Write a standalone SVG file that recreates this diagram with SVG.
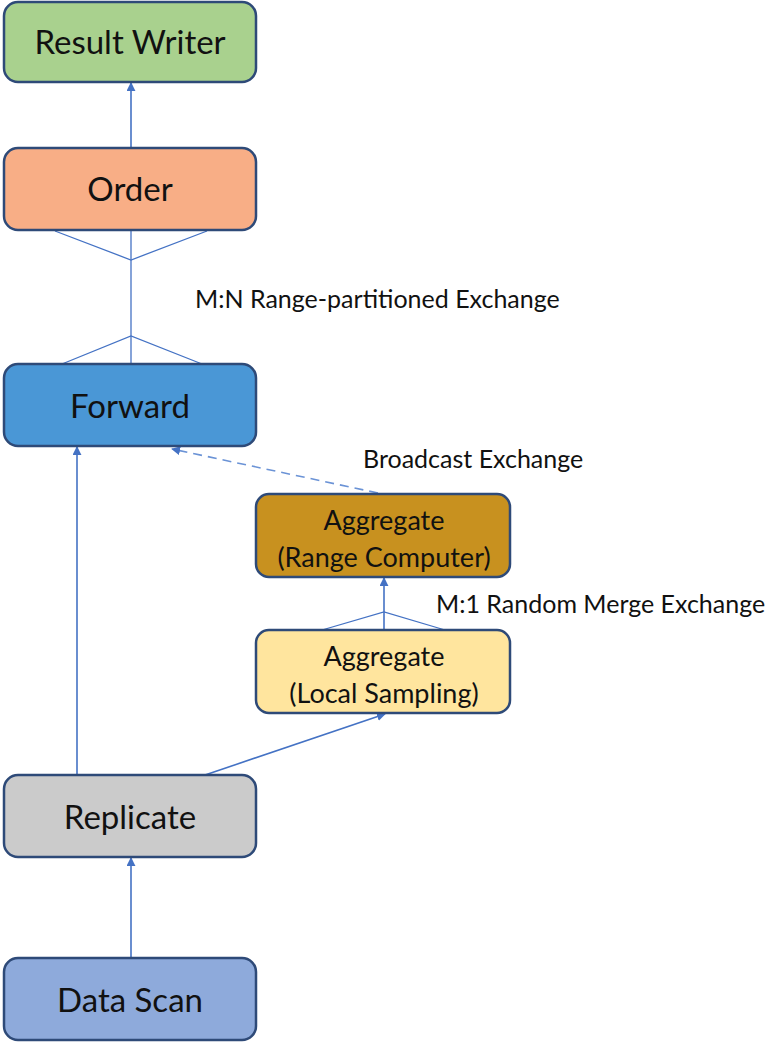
<svg xmlns="http://www.w3.org/2000/svg" width="776" height="1042" viewBox="0 0 776 1042">
  <defs>
    <marker id="arrow" viewBox="0 0 10 10" refX="9" refY="5" markerWidth="9" markerHeight="9" markerUnits="userSpaceOnUse" orient="auto">
      <path d="M0,0 L10,5 L0,10 z" fill="#4472c4"/>
    </marker>
    <style>
      .box { stroke: #2e4a78; stroke-width: 2.5; }
      .lbl { font-family: Lato, "Open Sans", sans-serif; fill: #111; text-anchor: middle; }
      .big { font-size: 33px; }
      .mid { font-size: 27px; }
      .note { font-family: Lato, "Open Sans", sans-serif; font-size: 25px; fill: #111; }
      .edge { stroke: #4472c4; stroke-width: 1.6; fill: none; }
      .fan { stroke: #4472c4; stroke-width: 1.3; fill: none; }
      .dash { stroke: #6b93d6; stroke-width: 1.6; fill: none; stroke-dasharray: 9 6; }
    </style>
  </defs>

  <!-- connectors -->
  <g id="connectors">
    <line class="edge" x1="131" y1="148" x2="131" y2="83" marker-end="url(#arrow)"/>
    <!-- range-partitioned exchange -->
    <polyline class="fan" points="55,231 131,260 207,231"/>
    <line class="fan" x1="131" y1="231" x2="131" y2="364"/>
    <polyline class="fan" points="62,364 131,336 202,364"/>
    <!-- broadcast exchange -->
    <line class="dash" x1="378" y1="493" x2="172" y2="449" marker-end="url(#arrow)"/>
    <!-- random merge exchange -->
    <line class="edge" x1="384" y1="630" x2="384" y2="578" marker-end="url(#arrow)"/>
    <polyline class="fan" points="322,630 384,612 445,630"/>
    <!-- replicate outputs -->
    <line class="edge" x1="77" y1="775" x2="77" y2="447" marker-end="url(#arrow)"/>
    <line class="edge" x1="205" y1="775" x2="385" y2="714" marker-end="url(#arrow)"/>
    <line class="edge" x1="131" y1="958" x2="131" y2="858" marker-end="url(#arrow)"/>
  </g>

  <g id="result-writer">
    <rect class="box" x="4" y="2" width="252" height="80" rx="14" fill="#a9d18e"/>
    <text class="lbl big" x="130" y="54">Result Writer</text>
  </g>

  <g id="order">
    <rect class="box" x="4" y="148" width="252" height="82" rx="14" fill="#f8ae86"/>
    <text class="lbl big" x="130" y="201">Order</text>
  </g>

  <text class="note" x="195" y="308">M:N Range-partitioned Exchange</text>

  <g id="forward">
    <rect class="box" x="4" y="364" width="252" height="82" rx="14" fill="#4a97d6"/>
    <text class="lbl big" x="130" y="418">Forward</text>
  </g>

  <text class="note" x="363" y="468">Broadcast Exchange</text>

  <g id="range-computer">
    <rect class="box" x="256" y="494" width="254" height="83" rx="13" fill="#c8911f"/>
    <text class="lbl mid" x="384" y="530">Aggregate</text>
    <text class="lbl mid" x="384" y="567">(Range Computer)</text>
  </g>

  <text class="note" x="436" y="613">M:1 Random Merge Exchange</text>

  <g id="local-sampling">
    <rect class="box" x="256" y="630" width="254" height="83" rx="13" fill="#ffe59e"/>
    <text class="lbl mid" x="384" y="666">Aggregate</text>
    <text class="lbl mid" x="384" y="703">(Local Sampling)</text>
  </g>

  <g id="replicate">
    <rect class="box" x="4" y="775" width="252" height="82" rx="14" fill="#cbcbcb"/>
    <text class="lbl big" x="130" y="829">Replicate</text>
  </g>

  <g id="data-scan">
    <rect class="box" x="4" y="958" width="252" height="82" rx="14" fill="#8eaadb"/>
    <text class="lbl big" x="130" y="1012">Data Scan</text>
  </g>
</svg>
